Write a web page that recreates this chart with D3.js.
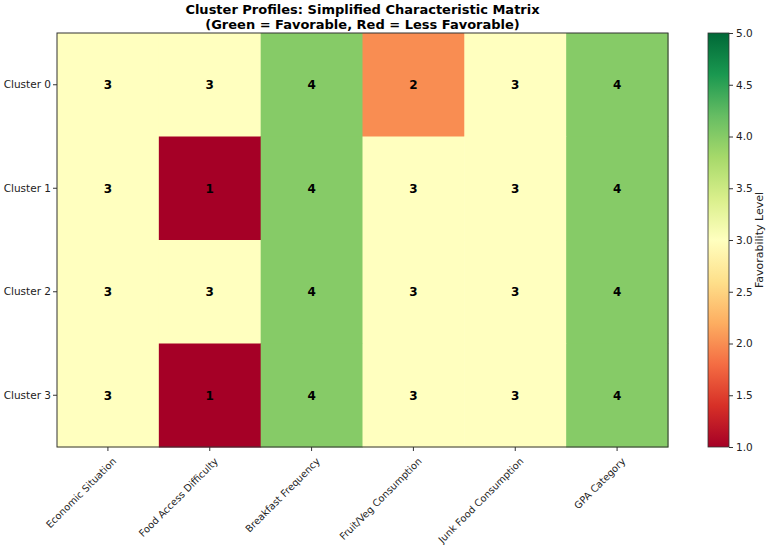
<!DOCTYPE html>
<html>
<head>
<meta charset="utf-8">
<script src="https://cdn.jsdelivr.net/npm/d3@7"></script>
<style>
    body { margin: 0; background: #fff; }
    svg { font-family: "DejaVu Sans", sans-serif; }
    .title { font-size: 13px; font-weight: bold; fill: #000; }
    .axis text { font-family: "DejaVu Sans", sans-serif; font-size: 10.5px; fill: #222; }
    .x-axis text { font-size: 9.8px; }
    .axis path, .axis line { stroke: #333; }
    .cell-label { font-size: 12px; font-weight: bold; fill: #000; }
</style>
</head>
<body>
<div id="container"></div>
<script>
const clusters = ['Cluster 0', 'Cluster 1', 'Cluster 2', 'Cluster 3'];
const characteristics = ['Economic Situation', 'Food Access Difficulty', 'Breakfast Frequency',
    'Fruit/Veg Consumption', 'Junk Food Consumption', 'GPA Category'];
const cluster0 = [3, 3, 4, 2, 3, 4];
const cluster1 = [3, 1, 4, 3, 3, 4];
const cluster2 = [3, 3, 4, 3, 3, 4];
const cluster3 = [3, 1, 4, 3, 3, 4];
const colorbarTicks = [1.0, 1.5, 2.0, 2.5, 3.0, 3.5, 4.0, 4.5, 5.0];

const matrix = [cluster0, cluster1, cluster2, cluster3];
const cells = [];
matrix.forEach((row, r) => row.forEach((v, c) => cells.push({ row: clusters[r], col: characteristics[c], value: v })));

// matplotlib RdYlGn (linear between ColorBrewer stops)
const rdylgn = ['#a50026', '#d73027', '#f46d43', '#fdae61', '#fee08b', '#ffffbf',
    '#d9ef8b', '#a6d96a', '#66bd63', '#1a9850', '#006837'];
const color = d3.scaleLinear()
    .domain(d3.range(rdylgn.length).map(i => 1 + 4 * i / (rdylgn.length - 1)))
    .range(rdylgn)
    .interpolate(d3.interpolateRgb);

const W = 767, H = 545;
const plotLeft = 57, plotRight = 668, plotTop = 33, plotBottom = 447;

const svg = d3.select('#container').append('svg')
    .attr('width', W)
    .attr('height', H);

const xScale = d3.scaleBand().domain(characteristics).range([plotLeft, plotRight]);
const yScale = d3.scaleBand().domain(clusters).range([plotTop, plotBottom]);

svg.append('g')
    .selectAll('rect')
    .data(cells)
    .enter()
    .append('rect')
    .attr('x', d => xScale(d.col))
    .attr('y', d => yScale(d.row))
    .attr('width', xScale.bandwidth() + 0.5)
    .attr('height', yScale.bandwidth() + 0.5)
    .attr('fill', d => color(d.value));

svg.append('g')
    .selectAll('text')
    .data(cells)
    .enter()
    .append('text')
    .attr('class', 'cell-label')
    .attr('x', d => xScale(d.col) + xScale.bandwidth() / 2)
    .attr('y', d => yScale(d.row) + yScale.bandwidth() / 2)
    .attr('text-anchor', 'middle')
    .attr('dy', '0.36em')
    .text(d => d.value);

svg.append('rect')
    .attr('x', plotLeft)
    .attr('y', plotTop)
    .attr('width', plotRight - plotLeft)
    .attr('height', plotBottom - plotTop)
    .attr('fill', 'none')
    .attr('stroke', '#333')
    .attr('stroke-width', 1);

const xAxis = svg.append('g')
    .attr('class', 'axis x-axis')
    .attr('transform', `translate(0, ${plotBottom})`)
    .call(d3.axisBottom(xScale).tickSize(4).tickSizeOuter(0));
xAxis.select('.domain').remove();
xAxis.selectAll('text')
    .attr('text-anchor', 'end')
    .attr('dx', '0')
    .attr('dy', '0')
    .attr('transform', 'translate(4, 10) rotate(-45)');

const yAxis = svg.append('g')
    .attr('class', 'axis')
    .attr('transform', `translate(${plotLeft}, 0)`)
    .call(d3.axisLeft(yScale).tickSize(4).tickSizeOuter(0));
yAxis.select('.domain').remove();
yAxis.selectAll('text').attr('x', -6);

// colorbar
const cbLeft = 708, cbWidth = 21;
const defs = svg.append('defs');
const grad = defs.append('linearGradient')
    .attr('id', 'cbgrad')
    .attr('x1', 0).attr('y1', 1).attr('x2', 0).attr('y2', 0);
grad.selectAll('stop')
    .data(rdylgn)
    .enter()
    .append('stop')
    .attr('offset', (d, i) => i / (rdylgn.length - 1))
    .attr('stop-color', d => d);

const cbScale = d3.scaleLinear().domain([1, 5]).range([plotBottom, plotTop]);

svg.append('rect')
    .attr('x', cbLeft)
    .attr('y', plotTop)
    .attr('width', cbWidth)
    .attr('height', plotBottom - plotTop)
    .attr('fill', 'url(#cbgrad)')
    .attr('stroke', '#333')
    .attr('stroke-width', 0.8);

const cbAxis = svg.append('g')
    .attr('class', 'axis')
    .attr('transform', `translate(${cbLeft + cbWidth}, 0)`)
    .call(d3.axisRight(cbScale).tickValues(colorbarTicks).tickFormat(d3.format('.1f')).tickSize(4));
cbAxis.select('.domain').remove();

svg.append('text')
    .attr('transform', `translate(${763}, ${(plotTop + plotBottom) / 2}) rotate(-90)`)
    .attr('text-anchor', 'middle')
    .attr('font-size', '11px')
    .attr('fill', '#222')
    .text('Favorability Level');

svg.append('text')
    .attr('class', 'title')
    .attr('x', (plotLeft + plotRight) / 2)
    .attr('y', 14)
    .attr('text-anchor', 'middle')
    .text('Cluster Profiles: Simplified Characteristic Matrix');

svg.append('text')
    .attr('class', 'title')
    .attr('x', (plotLeft + plotRight) / 2)
    .attr('y', 29)
    .attr('text-anchor', 'middle')
    .text('(Green = Favorable, Red = Less Favorable)');
</script>
</body>
</html>
